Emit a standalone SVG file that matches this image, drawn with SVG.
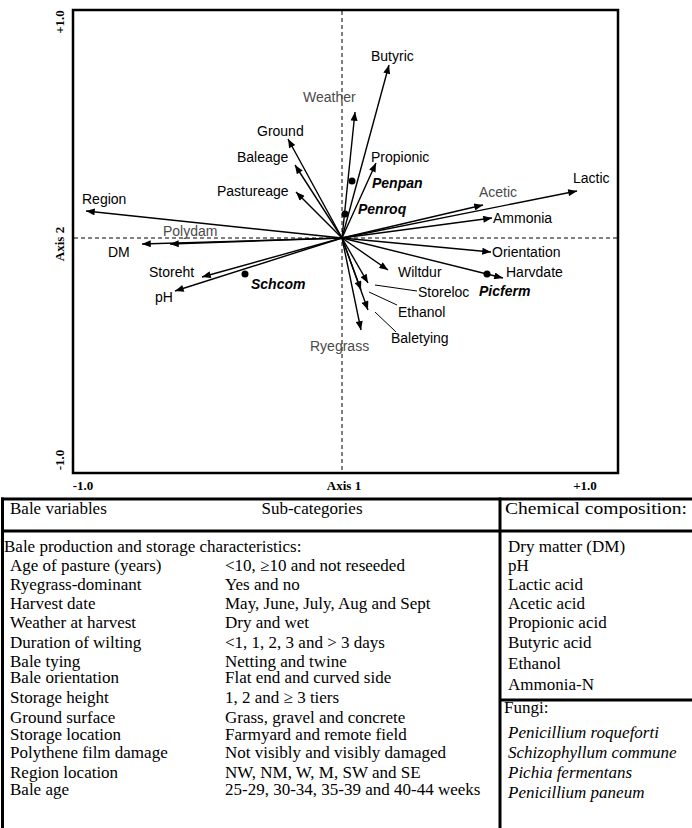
<svg xmlns="http://www.w3.org/2000/svg" width="692" height="828" viewBox="0 0 692 828">
<style>
.lbl{font-family:"Liberation Sans",Arial,sans-serif;font-size:14px;fill:#000}
.sup{fill:#4a4a4a}
.sp{font-weight:bold;font-style:italic}
.ax{font-family:"Liberation Serif","Times New Roman",serif;font-size:13px;font-weight:bold;fill:#000}
.tb{font-family:"Liberation Serif","Times New Roman",serif;font-size:17px;fill:#000}
.it{font-style:italic}
.vec{stroke:#000;stroke-width:1.4;fill:none;marker-end:url(#ah)}
.lead{stroke:#000;stroke-width:1;fill:none}
.dash{stroke:#000;stroke-width:1;stroke-dasharray:4 3;fill:none}
.frame{stroke:#000;stroke-width:2.5;fill:none}
.tl{stroke:#000;stroke-width:3;fill:none}
.dot{fill:#000}
</style>
<defs>
<marker id="ah" viewBox="0 0 10 8" refX="10" refY="4" markerWidth="10" markerHeight="7" markerUnits="userSpaceOnUse" orient="auto">
<path d="M0,0 L10,4 L0,8 z" fill="#000"/>
</marker>
</defs>
<rect width="692" height="828" fill="#fff"/>

<g id="plot-frame">
<rect class="frame" x="73" y="10" width="545" height="463"/>
<line class="dash" x1="342" y1="11" x2="342" y2="472"/>
<line class="dash" x1="74" y1="238" x2="617" y2="238"/>
</g>

<g id="axis-labels">
<text class="ax" transform="translate(64,22) rotate(-90)" text-anchor="middle">+1.0</text>
<text class="ax" transform="translate(64,244) rotate(-90)" text-anchor="middle">Axis 2</text>
<text class="ax" transform="translate(64,460) rotate(-90)" text-anchor="middle">-1.0</text>
<text class="ax" x="83" y="490" text-anchor="middle">-1.0</text>
<text class="ax" x="344" y="490" text-anchor="middle">Axis 1</text>
<text class="ax" x="585" y="490" text-anchor="middle">+1.0</text>
</g>

<g id="connectors">
<line class="vec" x1="342" y1="238" x2="86" y2="211"/>
<line class="vec" x1="342" y1="238" x2="170" y2="244"/>
<line class="vec" x1="342" y1="238" x2="142" y2="244"/>
<line class="vec" x1="342" y1="238" x2="202" y2="277"/>
<line class="vec" x1="342" y1="238" x2="175" y2="291"/>
<line class="vec" x1="342" y1="238" x2="296" y2="192"/>
<line class="vec" x1="342" y1="238" x2="295" y2="165"/>
<line class="vec" x1="342" y1="238" x2="288" y2="139"/>
<line class="vec" x1="342" y1="238" x2="355" y2="112"/>
<line class="vec" x1="342" y1="238" x2="389" y2="65"/>
<line class="vec" x1="342" y1="238" x2="376" y2="163"/>
<line class="vec" x1="342" y1="238" x2="483" y2="205"/>
<line class="vec" x1="342" y1="238" x2="577" y2="191"/>
<line class="vec" x1="342" y1="238" x2="492" y2="218"/>
<line class="vec" x1="342" y1="238" x2="491" y2="252"/>
<line class="vec" x1="342" y1="238" x2="503" y2="278"/>
<line class="vec" x1="342" y1="238" x2="388" y2="270"/>
<line class="vec" x1="342" y1="238" x2="368" y2="283"/>
<line class="vec" x1="342" y1="238" x2="361" y2="290"/>
<line class="vec" x1="342" y1="238" x2="368" y2="310"/>
<line class="vec" x1="342" y1="238" x2="361" y2="330"/>
<line class="lead" x1="375" y1="285" x2="417" y2="291"/>
<line class="lead" x1="369" y1="292" x2="397" y2="305"/>
<line class="lead" x1="375" y1="312" x2="396" y2="332"/>
</g>

<g id="Region"><text class="lbl" x="82" y="204">Region</text></g>
<g id="Polydam"><text class="lbl sup" x="163" y="236">Polydam</text></g>
<g id="DM"><text class="lbl" x="108" y="257">DM</text></g>
<g id="Storeht"><text class="lbl" x="149" y="277">Storeht</text></g>
<g id="pH"><text class="lbl" x="155" y="302">pH</text></g>
<g id="Schcom"><circle class="dot" cx="245" cy="274" r="3.5"/><text class="lbl sp" x="251" y="289">Schcom</text></g>
<g id="Pastureage"><text class="lbl" x="217" y="196">Pastureage</text></g>
<g id="Baleage"><text class="lbl" x="237" y="162">Baleage</text></g>
<g id="Ground"><text class="lbl" x="257" y="136">Ground</text></g>
<g id="Weather"><text class="lbl sup" x="303" y="102">Weather</text></g>
<g id="Butyric"><text class="lbl" x="371" y="61">Butyric</text></g>
<g id="Propionic"><text class="lbl" x="371" y="162">Propionic</text></g>
<g id="Penpan"><circle class="dot" cx="352" cy="181" r="3.5"/><text class="lbl sp" x="372" y="188">Penpan</text></g>
<g id="Penroq"><circle class="dot" cx="345" cy="214" r="3.5"/><text class="lbl sp" x="358" y="214">Penroq</text></g>
<g id="Acetic"><text class="lbl sup" x="479" y="197">Acetic</text></g>
<g id="Lactic"><text class="lbl" x="573" y="183">Lactic</text></g>
<g id="Ammonia"><text class="lbl" x="493" y="223">Ammonia</text></g>
<g id="Orientation"><text class="lbl" x="492" y="257">Orientation</text></g>
<g id="Harvdate"><text class="lbl" x="506" y="277">Harvdate</text></g>
<g id="Picferm"><circle class="dot" cx="487" cy="274" r="3.5"/><text class="lbl sp" x="479" y="296">Picferm</text></g>
<g id="Wiltdur"><text class="lbl" x="398" y="277">Wiltdur</text></g>
<g id="Storeloc"><text class="lbl" x="418" y="297">Storeloc</text></g>
<g id="Ethanol"><text class="lbl" x="398" y="317">Ethanol</text></g>
<g id="Baletying"><text class="lbl" x="391" y="343">Baletying</text></g>
<g id="Ryegrass"><text class="lbl sup" x="310" y="351">Ryegrass</text></g>

<g id="table">
<line class="tl" x1="1" y1="499" x2="692" y2="499"/>
<line class="tl" x1="1" y1="531" x2="692" y2="531"/>
<line class="tl" x1="2.5" y1="497.5" x2="2.5" y2="828"/>
<line class="tl" x1="500" y1="497.5" x2="500" y2="828"/>
<line class="tl" x1="500" y1="700" x2="692" y2="700"/>

<text class="tb" x="10" y="514">Bale variables</text>
<text class="tb" x="312" y="514" text-anchor="middle">Sub-categories</text>
<text class="tb" x="505" y="514" textLength="182" lengthAdjust="spacingAndGlyphs">Chemical composition:</text>

<text class="tb" x="4" y="552">Bale production and storage characteristics:</text>
<text class="tb" x="10" y="571">Age of pasture (years)</text>
<text class="tb" x="10" y="590">Ryegrass-dominant</text>
<text class="tb" x="10" y="609">Harvest date</text>
<text class="tb" x="10" y="628">Weather at harvest</text>
<text class="tb" x="10" y="648">Duration of wilting</text>
<text class="tb" x="10" y="667">Bale tying</text>
<text class="tb" x="10" y="683">Bale orientation</text>
<text class="tb" x="10" y="703">Storage height</text>
<text class="tb" x="10" y="723">Ground surface</text>
<text class="tb" x="10" y="740">Storage location</text>
<text class="tb" x="10" y="758">Polythene film damage</text>
<text class="tb" x="10" y="778">Region location</text>
<text class="tb" x="10" y="795">Bale age</text>

<text class="tb" x="225" y="571">&lt;10, ≥10 and not reseeded</text>
<text class="tb" x="225" y="590">Yes and no</text>
<text class="tb" x="225" y="609">May, June, July, Aug and Sept</text>
<text class="tb" x="225" y="628">Dry and wet</text>
<text class="tb" x="225" y="648">&lt;1, 1, 2, 3 and &gt; 3 days</text>
<text class="tb" x="225" y="667">Netting and twine</text>
<text class="tb" x="225" y="683">Flat end and curved side</text>
<text class="tb" x="225" y="703">1, 2 and ≥ 3 tiers</text>
<text class="tb" x="225" y="723">Grass, gravel and concrete</text>
<text class="tb" x="225" y="740">Farmyard and remote field</text>
<text class="tb" x="225" y="758">Not visibly and visibly damaged</text>
<text class="tb" x="225" y="778">NW, NM, W, M, SW and SE</text>
<text class="tb" x="225" y="795">25-29, 30-34, 35-39 and 40-44 weeks</text>

<text class="tb" x="508" y="552">Dry matter (DM)</text>
<text class="tb" x="508" y="571">pH</text>
<text class="tb" x="508" y="590">Lactic acid</text>
<text class="tb" x="508" y="609">Acetic acid</text>
<text class="tb" x="508" y="628">Propionic acid</text>
<text class="tb" x="508" y="648">Butyric acid</text>
<text class="tb" x="508" y="669">Ethanol</text>
<text class="tb" x="508" y="690">Ammonia-N</text>
<text class="tb" x="504" y="713">Fungi:</text>
<text class="tb it" x="508" y="738">Penicillium roqueforti</text>
<text class="tb it" x="508" y="758">Schizophyllum commune</text>
<text class="tb it" x="508" y="778">Pichia fermentans</text>
<text class="tb it" x="508" y="798">Penicillium paneum</text>
</g>
</svg>
